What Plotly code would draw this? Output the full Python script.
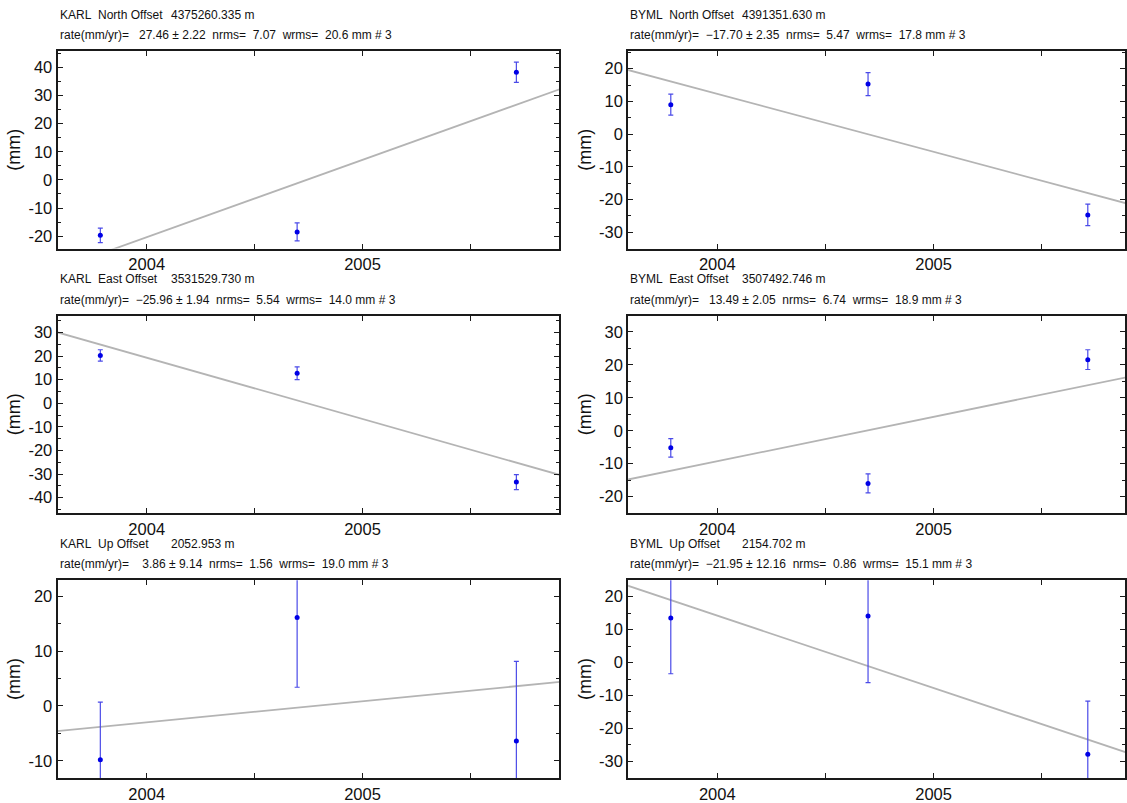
import plotly.graph_objects as go

W, H = 1127, 803

# ---------------- data ----------------
epochs = [2003.785, 2004.697, 2005.713]
fit_x = [2003.5, 2006.0]

karl_north = [-19.7, -18.5, 38.3]
karl_north_err = [2.6, 3.2, 3.6]
karl_north_fit = [-34.1, 34.6]

byml_north = [9.0, 15.3, -24.7]
byml_north_err = [3.2, 3.5, 3.3]
byml_north_fit = [21.15, -23.1]

karl_east = [20.3, 12.7, -33.4]
karl_east_err = [2.4, 2.7, 3.2]
karl_east_fit = [32.3, -32.6]

byml_east = [-5.2, -16.0, 21.6]
byml_east_err = [2.8, 2.9, 3.0]
byml_east_fit = [-16.0, 17.7]

karl_up = [-9.8, 16.1, -6.4]
karl_up_err = [10.5, 12.7, 14.5]
karl_up_fit = [-4.9, 4.7]

byml_up = [13.5, 14.1, -27.8]
byml_up_err = [16.9, 20.2, 16.1]
byml_up_fit = [25.2, -29.65]

titles = ["KARL  North Offset", "BYML  North Offset",
          "KARL  East Offset", "BYML  East Offset",
          "KARL  Up Offset", "BYML  Up Offset"]
positions = ["4375260.335 m", "4391351.630 m",
             "3531529.730 m", "3507492.746 m",
             "2052.953 m", "2154.702 m"]
subtitles = [
    "rate(mm/yr)=   27.46 ± 2.22  nrms=  7.07  wrms=  20.6 mm # 3",
    "rate(mm/yr)=  \u221217.70 ± 2.35  nrms=  5.47  wrms=  17.8 mm # 3",
    "rate(mm/yr)=  \u221225.96 ± 1.94  nrms=  5.54  wrms=  14.0 mm # 3",
    "rate(mm/yr)=   13.49 ± 2.05  nrms=  6.74  wrms=  18.9 mm # 3",
    "rate(mm/yr)=    3.86 ± 9.14  nrms=  1.56  wrms=  19.0 mm # 3",
    "rate(mm/yr)=  \u221221.95 ± 12.16  nrms=  0.86  wrms=  15.1 mm # 3",
]
x_tick_vals = [2004, 2004.5, 2005, 2005.5]
x_tick_text = ["2004", "", "2005", ""]

series = [
    (karl_north, karl_north_err, karl_north_fit),
    (byml_north, byml_north_err, byml_north_fit),
    (karl_east, karl_east_err, karl_east_fit),
    (byml_east, byml_east_err, byml_east_fit),
    (karl_up, karl_up_err, karl_up_fit),
    (byml_up, byml_up_err, byml_up_fit),
]
y_ranges = [[-24.4, 45.8], [-35.0, 25.4],
            [-46.5, 37.2], [-25.0, 35.0],
            [-13.1, 22.9], [-35.0, 25.0]]
x_ranges = [[2003.587, 2005.912], [2003.588, 2005.885]]

# ---------------- layout geometry (pixels) ----------------
col_px = [(57.7, 560.3), (629.3, 1127.0)]
row_px = [(51.7, 251.7), (319.5, 519.5), (587.5, 787.7)]

FONT = "Liberation Sans, Arial, Helvetica, sans-serif"
LINE = "#1a1a1a"

fig = go.Figure()
annotations = []

def nb(s):
    return s.replace(" ", "\u00a0")

for i, (vals, errs, fitv) in enumerate(series):
    r, c = divmod(i, 2)
    k = i + 1
    xa = "x" if k == 1 else f"x{k}"
    ya = "y" if k == 1 else f"y{k}"
    fig.add_trace(go.Scatter(
        x=fit_x, y=fitv, mode="lines", xaxis=xa, yaxis=ya,
        line=dict(color="#b4b4b4", width=1.8), hoverinfo="skip"))
    fig.add_trace(go.Scatter(
        x=epochs, y=vals, mode="markers", xaxis=xa, yaxis=ya,
        marker=dict(color="#0000e6", size=5),
        error_y=dict(type="data", array=errs, visible=True,
                     color="#4a4ae8", thickness=1.2, width=2.5)))

    x0, x1 = col_px[c]
    y0, y1 = row_px[r]
    xdom = [x0 / W, min(x1 / W, 1.0)]
    ydom = [1 - y1 / H, 1 - y0 / H]
    lo, hi = y_ranges[i]
    start = int(lo // 10) * 10 + 10
    yvals = list(range(start, int(hi) + 1, 10))
    yvals = [v for v in yvals if lo <= v <= hi]
    ytext = [str(v) for v in yvals]

    fig.layout[f"xaxis{k if k > 1 else ''}"] = dict(
        domain=xdom, range=x_ranges[c], anchor=ya,
        tickmode="array", tickvals=x_tick_vals, ticktext=x_tick_text,
        ticks="inside", ticklen=5, tickwidth=1, tickcolor=LINE,
        showline=True, linewidth=2, linecolor=LINE, mirror="ticks",
        showgrid=False, zeroline=False,
        tickfont=dict(family=FONT, size=16.5, color="#111"))
    fig.layout[f"yaxis{k if k > 1 else ''}"] = dict(
        domain=ydom, range=y_ranges[i], anchor=xa,
        tickmode="array", tickvals=yvals, ticktext=ytext,
        ticks="inside", ticklen=5, tickwidth=1, tickcolor=LINE,
        minor=dict(tickmode="linear", tick0=0, dtick=5, ticks="inside",
                   ticklen=3, tickwidth=1, tickcolor=LINE),
        showline=True, linewidth=2, linecolor=LINE, mirror="ticks",
        showgrid=False, zeroline=False,
        tickfont=dict(family=FONT, size=16.5, color="#111"),
        title=dict(text="(mm)", font=dict(family=FONT, size=18, color="#111"),
                   standoff=3))

    annotations.append(dict(
        text=nb(titles[i]), xref="paper", yref="paper",
        x=x0 / W, y=1 - (y0 - 37) / H, xanchor="left", yanchor="middle",
        showarrow=False, font=dict(family=FONT, size=12, color="#111")))
    annotations.append(dict(
        text=nb(positions[i]), xref="paper", yref="paper",
        x=(x0 + 112) / W, y=1 - (y0 - 37) / H, xanchor="left", yanchor="middle",
        showarrow=False, font=dict(family=FONT, size=12, color="#111")))
    annotations.append(dict(
        text=nb(subtitles[i]), xref="paper", yref="paper",
        x=x0 / W, y=1 - (y0 - 16) / H, xanchor="left", yanchor="middle",
        showarrow=False, font=dict(family=FONT, size=12, color="#111")))

fig.update_layout(
    width=W, height=H, autosize=False,
    margin=dict(l=0, r=0, t=0, b=0),
    paper_bgcolor="white", plot_bgcolor="white",
    showlegend=False, annotations=annotations)

fig.write_html("out.html", config={"displayModeBar": False},
               post_script="document.body.style.margin='0';document.body.style.overflow='hidden';")
